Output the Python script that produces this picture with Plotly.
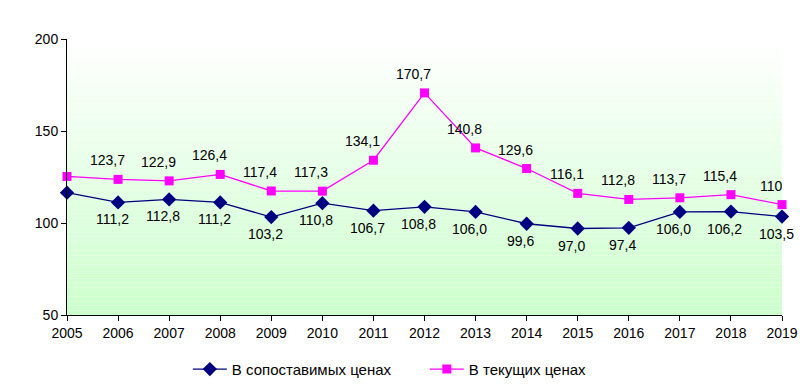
import plotly.graph_objects as go

years = list(range(2005, 2020))
comparable = [116.5, 111.2, 112.8, 111.2, 103.2, 110.8, 106.7, 108.8, 106.0, 99.6, 97.0, 97.4, 106.0, 106.2, 103.5]
comparable_labels = ["", "111,2", "112,8", "111,2", "103,2", "110,8", "106,7", "108,8", "106,0", "99,6", "97,0", "97,4", "106,0", "106,2", "103,5"]
current = [125.3, 123.7, 122.9, 126.4, 117.4, 117.3, 134.1, 170.7, 140.8, 129.6, 116.1, 112.8, 113.7, 115.4, 110.0]
current_labels = ["", "123,7", "122,9", "126,4", "117,4", "117,3", "134,1", "170,7", "140,8", "129,6", "116,1", "112,8", "113,7", "115,4", "110"]
series_names = ["В сопоставимых ценах", "В текущих ценах"]
y_ticks = [50, 100, 150, 200]

FONT = "Arial, Liberation Sans, sans-serif"

fig = go.Figure()
fig.add_trace(go.Scatter(
    x=years, y=comparable, name=series_names[0], mode="lines+markers",
    line=dict(color="#000080", width=1.3),
    marker=dict(symbol="diamond", size=11, color="#000080"),
    cliponaxis=False,
))
fig.add_trace(go.Scatter(
    x=years, y=current, name=series_names[1], mode="lines+markers",
    line=dict(color="#FF00FF", width=1.3),
    marker=dict(symbol="square", size=9, color="#FF00FF"),
    cliponaxis=False,
))

annotations = []
for xv, yv, t in zip(years, current, current_labels):
    if t:
        annotations.append(dict(x=xv, y=yv, text=t, showarrow=False, xshift=-11, yshift=19,
                                font=dict(family=FONT, size=14, color="black")))
for xv, yv, t in zip(years, comparable, comparable_labels):
    if t:
        annotations.append(dict(x=xv, y=yv, text=t, showarrow=False, xshift=-6, yshift=-17,
                                font=dict(family=FONT, size=14, color="black")))

# gradient background: white at top to light green at bottom
shapes = []
n = 60
top = (255, 255, 255)
bot = (204, 255, 204)
for i in range(n):
    f = (i + 0.5) / n
    c = tuple(round(top[k] + (bot[k] - top[k]) * f) for k in range(3))
    shapes.append(dict(type="rect", xref="x domain", yref="y domain",
                       x0=0, x1=1, y0=1 - (i + 1) / n, y1=1 - i / n,
                       fillcolor="rgb(%d,%d,%d)" % c, line=dict(width=0), layer="below"))

fig.update_layout(
    width=807, height=389,
    margin=dict(l=67, r=25, t=39, b=74, autoexpand=False),
    paper_bgcolor="white", plot_bgcolor="white",
    font=dict(family=FONT, size=14, color="black"),
    showlegend=True,
    legend=dict(orientation="h", x=0.169, xanchor="left",
                yref="container", y=0.093, yanchor="top",
                font=dict(family=FONT, size=15, color="black"), itemwidth=34,
                entrywidth=188),
    annotations=annotations,
    shapes=shapes,
    xaxis=dict(range=[2005, 2019], tickmode="array", tickvals=years,
               ticktext=[str(y) for y in years],
               showgrid=False, zeroline=False, showline=True, linecolor="black", linewidth=1,
               ticks="outside", ticklen=5, tickcolor="black",
               tickfont=dict(family=FONT, size=14)),
    yaxis=dict(range=[50, 200], tickmode="array", tickvals=y_ticks,
               showgrid=False, zeroline=False, showline=True, linecolor="black", linewidth=1,
               ticks="outside", ticklen=5, tickcolor="black",
               tickfont=dict(family=FONT, size=14)),
)

fig.write_html("out.html", config={"displayModeBar": False},
               post_script="document.body.style.margin='0';")
